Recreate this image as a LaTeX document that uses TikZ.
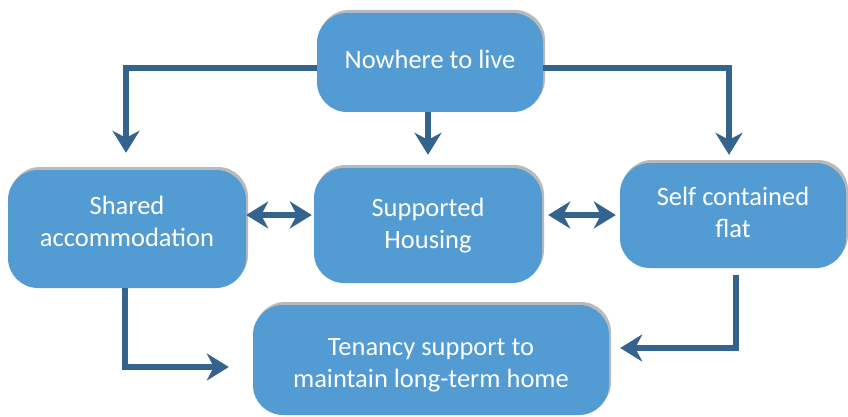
\documentclass[tikz,border=0pt]{standalone}
\usepackage{fontspec}
\setmainfont{Carlito}
\usetikzlibrary{calc}
\usetikzlibrary{positioning}
\usetikzlibrary{shadows}
\usetikzlibrary{arrows.meta}
\definecolor{boxblue}{RGB}{83,155,211}
\definecolor{arrowblue}{RGB}{52,100,142}
\tikzstyle{stagebox} = [fill=boxblue, rounded corners=30pt, text=white, align=center, font=\fontsize{26.5}{32}\selectfont, drop shadow={shadow xshift=2pt, shadow yshift=3pt, fill=black!45, opacity=0.6}]
\tikzstyle{flow} = [draw=arrowblue, line width=6pt, -{Stealth[length=22pt, width=27pt, inset=7pt]}]
\tikzstyle{twoway} = [draw=arrowblue, line width=6pt, {Stealth[length=22pt, width=27pt, inset=7pt]}-{Stealth[length=22pt, width=27pt, inset=7pt]}]

\begin{document}
\begin{tikzpicture}[x=1pt, y=1pt]
    \useasboundingbox (0,0) rectangle (848,-417);

    \node[stagebox, minimum width=226pt, minimum height=99pt, text depth=6pt] (nowhere) at (430,-62.5) {Nowhere to live};
    \node[stagebox, minimum width=228pt, minimum height=115pt] (supported) at ($(nowhere)+(-2,-163)$) {Supported\\Housing};
    \node[stagebox, minimum width=238pt, minimum height=118pt, text depth=16pt] (shared) at ($(supported)+(-301,-3.5)$) {Shared\\accommodation};
    \node[stagebox, minimum width=226pt, minimum height=105pt, text depth=7pt] (selfflat) at ($(supported)+(305,10)$) {Self contained\\flat};
    \node[stagebox, minimum width=356pt, minimum height=110pt, text height=59pt] (tenancy) at ($(supported)+(3,-134.5)$) {Tenancy support to\\maintain long-term home};
    \coordinate (midrow) at (0,-215);

    \draw[flow, shorten >=17pt] ([yshift=-5.5pt]nowhere.west) -| ([xshift=-1pt]shared.north);
    \draw[flow, shorten >=13pt] (nowhere.south -| supported.north) -- (supported.north);
    \draw[flow, shorten >=8pt] ([yshift=-5.5pt]nowhere.east) -| ([xshift=-4pt]selfflat.north);

    \draw[twoway, shorten >=2pt] (shared.east |- midrow) -- (supported.west |- midrow);
    \draw[twoway, shorten <=6pt, shorten >=4pt] (supported.east |- midrow) -- (selfflat.west |- midrow);

    \draw[flow, shorten >=24pt] ([xshift=-2pt]shared.south) |- ([yshift=-7pt]tenancy.west);
    \draw[flow, shorten <=7pt, shorten >=11pt] ([xshift=3pt]selfflat.south) |- ([yshift=12pt]tenancy.east);
\end{tikzpicture}
\end{document}
